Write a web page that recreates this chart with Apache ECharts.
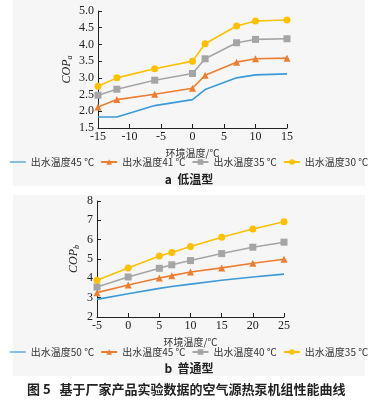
<!DOCTYPE html>
<html><head><meta charset="utf-8">
<script src="https://cdn.jsdelivr.net/npm/echarts@6/dist/echarts.min.js"></script>
<style>html,body{margin:0;padding:0;background:#fff}#a{position:absolute;left:0;top:0;width:378px;height:195px}#b{position:absolute;left:0;top:195px;width:378px;height:211px}</style>
</head><body><div id="a"></div><div id="b"></div>
<script>
// Chart a (低温型)
const xA = [-15, -12, -6, 0, 2, 7, 10, 15];
const namesA = ['出水温度45 ℃', '出水温度41 ℃', '出水温度35 ℃', '出水温度30 ℃'];
const a45 = [1.83, 1.83, 2.17, 2.35, 2.65, 3.00, 3.09, 3.12];
const a41 = [2.13, 2.35, 2.51, 2.69, 3.08, 3.47, 3.57, 3.59];
const a35 = [2.48, 2.66, 2.93, 3.13, 3.57, 4.05, 4.15, 4.17];
const a30 = [2.75, 3.00, 3.27, 3.50, 4.02, 4.55, 4.70, 4.73];
// Chart b (普通型)
const xB = [-5, 0, 5, 7, 10, 15, 20, 25];
const namesB = ['出水温度50 ℃', '出水温度45 ℃', '出水温度40 ℃', '出水温度35 ℃'];
const b50 = [2.91, 3.20, 3.48, 3.58, 3.70, 3.90, 4.07, 4.22];
const b45 = [3.26, 3.66, 4.02, 4.14, 4.33, 4.54, 4.78, 4.99];
const b40 = [3.55, 4.07, 4.52, 4.70, 4.92, 5.28, 5.61, 5.87];
const b35 = [3.90, 4.54, 5.16, 5.34, 5.65, 6.13, 6.55, 6.93];

const colors = ['#3a9ad9', '#ed7d31', '#a5a5a5', '#ffc000'];
const symbols = ['none', 'triangle', 'rect', 'circle'];
const serif = '"Liberation Serif","DejaVu Serif",serif';
const cjk = '"Noto Sans CJK SC",sans-serif';

function pairs(xs, ys) { return xs.map((x, i) => [x, ys[i]]); }

function xAxis(min, max, interval) {
  return {
    type: 'value', min, max, interval,
    axisLine: { show: true, onZero: false, lineStyle: { color: '#222', width: 1 } },
    axisTick: { show: true, inside: true, length: 4, lineStyle: { color: '#222' } },
    splitLine: { show: false },
    axisLabel: { margin: 3, color: '#222', fontFamily: serif, fontSize: 12 },
    name: '环境温度/℃', nameLocation: 'middle', nameGap: 18,
    nameTextStyle: { color: '#333', fontFamily: cjk, fontSize: 10 }
  };
}
function yAxis(min, max, interval, fmt, sub) {
  return {
    type: 'value', min, max, interval,
    axisLine: { show: true, onZero: false, lineStyle: { color: '#222', width: 1 } },
    axisTick: { show: true, inside: true, length: 4, lineStyle: { color: '#222' } },
    splitLine: { show: false },
    axisLabel: { margin: 4, color: '#222', fontFamily: serif, fontSize: 12, formatter: fmt },
    name: '{c|COP}{s|' + sub + '}', nameLocation: 'middle', nameGap: fmt ? 24 : 16,
    nameTextStyle: { rich: {
      c: { fontFamily: serif, fontStyle: 'italic', fontSize: 12, color: '#222' },
      s: { fontFamily: serif, fontStyle: 'italic', fontSize: 8, color: '#222', verticalAlign: 'bottom', padding: [6, 0, 0, 0] }
    } }
  };
}
function series(names, datas, xs) {
  return datas.map((d, i) => ({
    name: names[i], type: 'line',
    data: pairs(xs, d), symbol: symbols[i], symbolSize: 7,
    showSymbol: i !== 0,
    lineStyle: { color: colors[i], width: 1.6 },
    itemStyle: { color: colors[i] },
    animation: false
  }));
}
function legend(names, top) {
  return {
    data: names.map((n, i) => i === 0 ? { name: n, icon: 'path://M0,0h40v3h-40z' } : { name: n }),
    top, left: 'center', itemWidth: 16, itemHeight: 7, itemGap: 6, padding: 0,
    symbolKeepAspect: true,
    textStyle: { fontFamily: cjk, fontSize: 10, color: '#333' }
  };
}

const chartA = echarts.init(document.getElementById('a'));
chartA.setOption({
  color: colors,
  graphic: [
    { type: 'rect', z: -10, shape: { x: 13, y: 0, width: 352, height: 186 }, style: { fill: '#f6f6f6' } },
    { type: 'text', left: 'center', top: 173, style: { text: 'a  低温型', font: 'bold 12px "Noto Sans CJK SC",sans-serif', fill: '#222' } }
  ],
  grid: { left: 98, top: 11, width: 189, height: 117 },
  xAxis: xAxis(-15, 15, 5),
  yAxis: yAxis(1.5, 5.0, 0.5, v => v.toFixed(1), 'a'),
  legend: legend(namesA, 157),
  series: series(namesA, [a45, a41, a35, a30], xA),
  animation: false
});

const chartB = echarts.init(document.getElementById('b'));
chartB.setOption({
  color: colors,
  graphic: [
    { type: 'rect', z: -10, shape: { x: 13, y: 0, width: 352, height: 181 }, style: { fill: '#f6f6f6' } },
    { type: 'text', left: 'center', top: 167, style: { text: 'b  普通型', font: 'bold 12px "Noto Sans CJK SC",sans-serif', fill: '#222' } },
    { type: 'text', left: 27, top: 188, style: { text: '图 5   基于厂家产品实验数据的空气源热泵机组性能曲线', font: 'bold 13px "Noto Sans CJK SC",sans-serif', fill: '#222' } }
  ],
  grid: { left: 97, top: 6, width: 187, height: 116 },
  xAxis: xAxis(-5, 25, 5),
  yAxis: yAxis(2, 8, 1, null, 'b'),
  legend: legend(namesB, 152),
  series: series(namesB, [b50, b45, b40, b35], xB),
  animation: false
});
</script></body></html>
